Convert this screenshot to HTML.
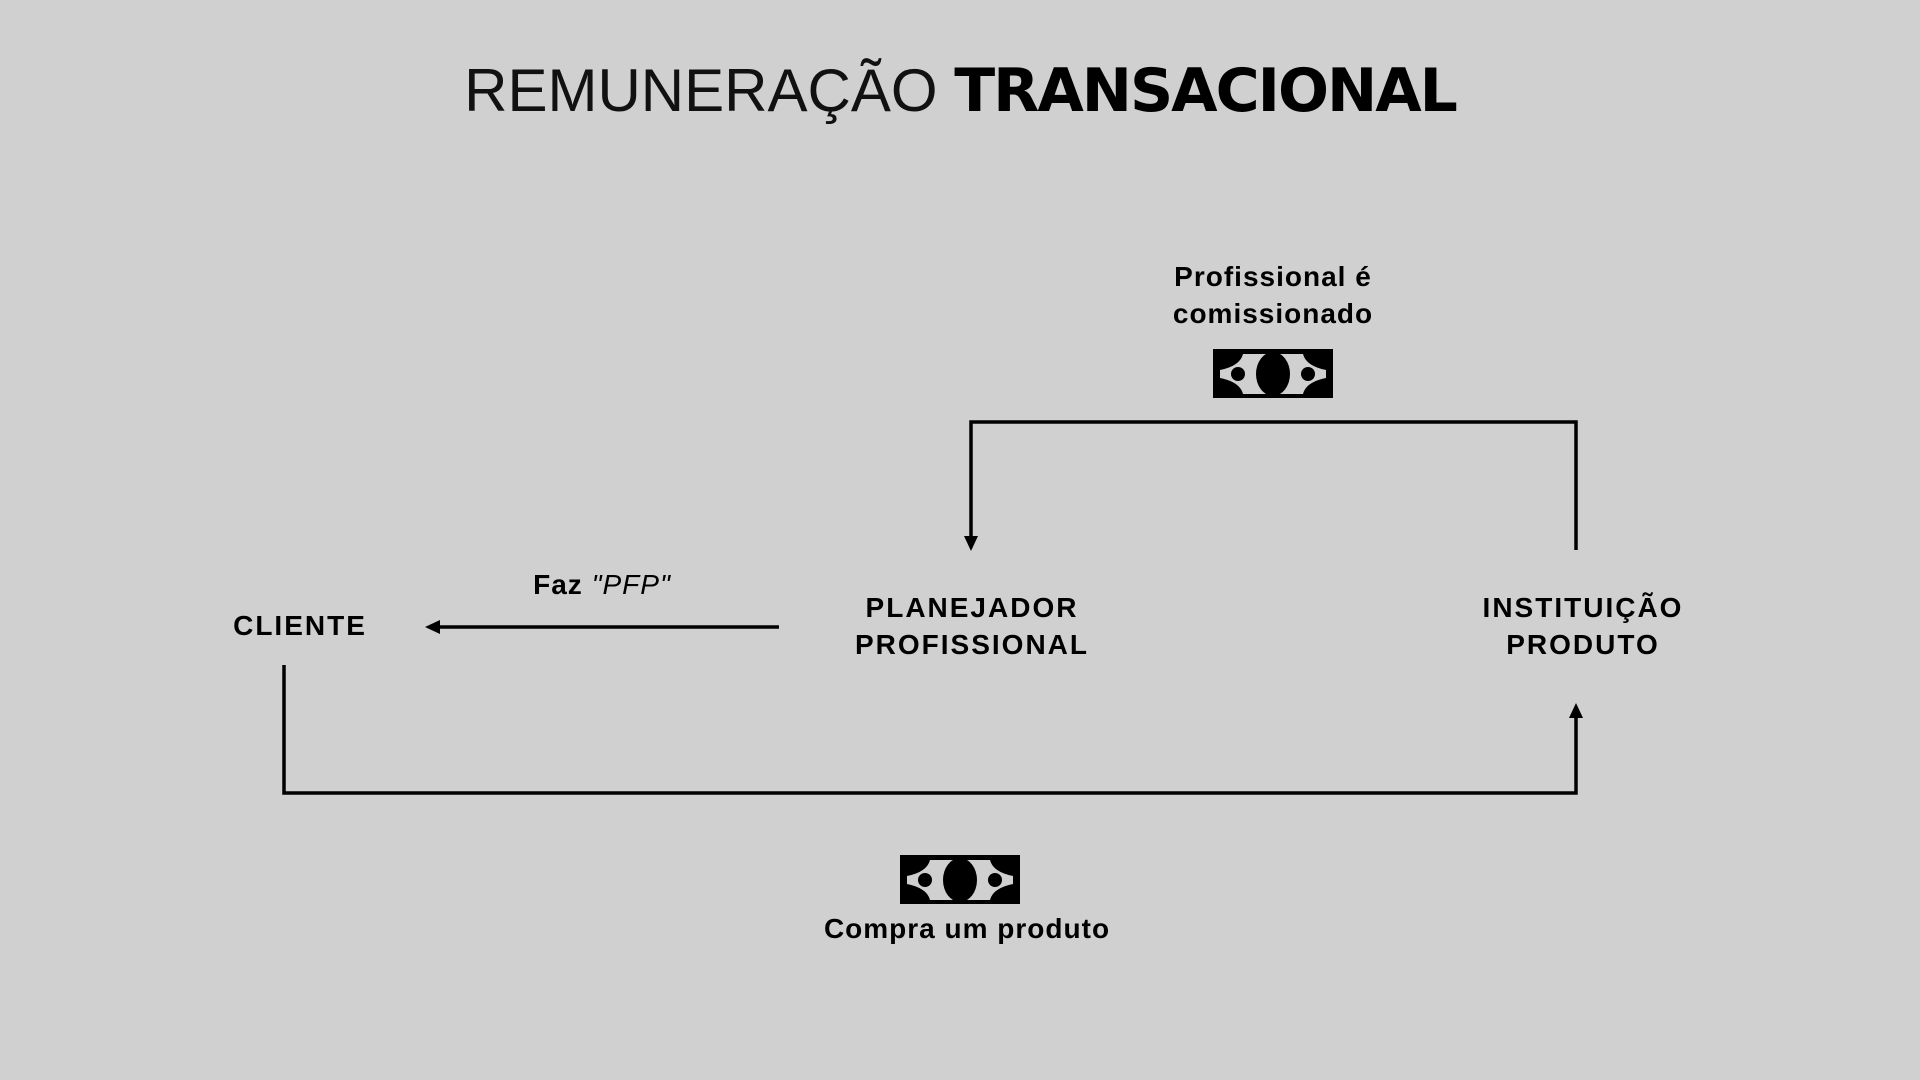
<!DOCTYPE html>
<html><head><meta charset="utf-8"><style>
html,body{margin:0;padding:0;background:#d0d0d0;}
body{width:1920px;height:1080px;position:relative;overflow:hidden;font-family:"Liberation Sans",sans-serif;color:#000;}
.t{position:absolute;font-weight:bold;font-size:28px;text-align:center;line-height:37px;letter-spacing:2px;transform:translateX(-50%);white-space:nowrap;}
.title{position:absolute;left:0;width:1920px;top:56px;text-align:center;font-size:60px;white-space:nowrap;}
</style></head><body>
<div class="title"><span style="font-weight:100;color:#111;font-family:'DejaVu Sans ExtraLight','Liberation Sans',sans-serif;">REMUNERAÇÃO</span> <span style="font-weight:bold;font-family:'DejaVu Sans','Liberation Sans',sans-serif;letter-spacing:-2px;">TRANSACIONAL</span></div>

<div class="t" style="left:1273px;top:258px;letter-spacing:1px;">Profissional é<br>comissionado</div>
<div class="t" style="left:300px;top:607px;">CLIENTE</div>
<div class="t" style="left:972px;top:589px;">PLANEJADOR<br>PROFISSIONAL</div>
<div class="t" style="left:1583px;top:589px;">INSTITUIÇÃO<br>PRODUTO</div>
<div class="t" style="left:602px;top:566px;letter-spacing:1px;">Faz <i style="font-weight:normal">"PFP"</i></div>
<div class="t" style="left:967px;top:910px;letter-spacing:1px;">Compra um produto</div>

<svg width="1920" height="1080" style="position:absolute;left:0;top:0">
<g fill="none" stroke="#000" stroke-width="3.5">
<polyline points="971,538 971,422 1576,422 1576,550"/>
<polyline points="284,665 284,793 1576,793 1576,716"/>
<line x1="779" y1="627" x2="438" y2="627"/>
</g>
<polygon points="964,536 978,536 971,551" fill="#000"/>
<polygon points="1569,718 1583,718 1576,703" fill="#000"/>
<polygon points="440,620 440,634 425,627" fill="#000"/>
<g id="bill">
<rect x="1213" y="349" width="120" height="49" fill="#000"/>
<path d="M1243,354 L1303,354 Q1306,366 1326,370 L1326,378 Q1306,382 1303,394 L1243,394 Q1240,382 1220,378 L1220,370 Q1240,366 1243,354Z" fill="#d0d0d0"/>
<ellipse cx="1273" cy="374" rx="17" ry="22" fill="#000"/>
<circle cx="1238" cy="374" r="7" fill="#000"/>
<circle cx="1308" cy="374" r="7" fill="#000"/>
</g>
<use href="#bill" transform="translate(-313,506)"/>
</svg>
</body></html>
